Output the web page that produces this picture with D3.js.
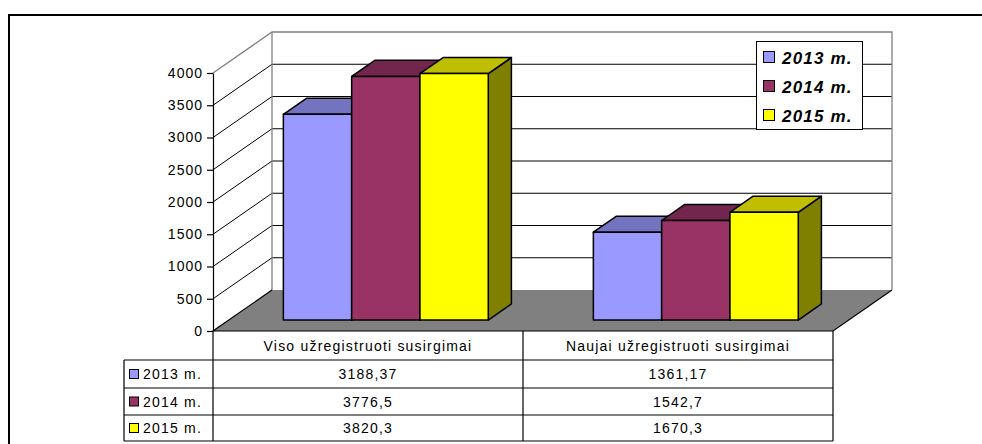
<!DOCTYPE html>
<html><head><meta charset="utf-8">
<script src="https://cdn.jsdelivr.net/npm/d3@7/dist/d3.min.js"></script>
<style>
html,body{margin:0;padding:0;background:#fff;}
svg{display:block;font-family:"Liberation Sans",Arial,sans-serif;}
</style></head>
<body>
<svg id="c" width="982" height="444"></svg>
<script>
const categories = ["Viso užregistruoti susirgimai", "Naujai užregistruoti susirgimai"];
const seriesNames = ["2013 m.", "2014 m.", "2015 m."];
const values2013 = [3188.37, 1361.17];
const values2014 = [3776.5, 1542.7];
const values2015 = [3820.3, 1670.3];
const valueLabels2013 = ["3188,37", "1361,17"];
const valueLabels2014 = ["3776,5", "1542,7"];
const valueLabels2015 = ["3820,3", "1670,3"];
const tickValues = [0, 500, 1000, 1500, 2000, 2500, 3000, 3500, 4000];
const colors = ["#9999FF", "#993366", "#FFFF00"];

const seriesValues = [values2013, values2014, values2015];
const seriesLabels = [valueLabels2013, valueLabels2014, valueLabels2015];

const svg = d3.select("#c");
const DX = 59, DY = 41;           // depth offset of the 3D box
const D0 = 0.268, D1 = 0.66;      // bar depth range
const y = d3.scaleLinear().domain([0, 4000]).range([331, 73]);
const x0 = d3.scaleBand().domain(categories).range([213, 833]);
const x1 = d3.scaleBand().domain(seriesNames).range([4, x0.bandwidth()]).paddingInner(0).paddingOuter(0.74);
const P = (x, v, d) => [x + d * DX, y(v) - d * DY];
const poly = pts => pts.map(p => p.join(",")).join(" ");
const darken = (c, k) => { const o = d3.rgb(c); return d3.rgb(o.r * k, o.g * k, o.b * k).formatHex(); };

// outer border
svg.append("path").attr("d", "M9,444 V15 H982").attr("fill", "none").attr("stroke", "#000").attr("stroke-width", 2);

const xL = x0.range()[0], xR = x0.range()[1];
const [ymin, ymax] = y.domain();
// back wall
svg.append("polygon").attr("points", poly([P(xL, ymin, 1), P(xL, ymax, 1), P(xR, ymax, 1), P(xR, ymin, 1)]))
  .attr("fill", "#fff");
// side wall
svg.append("polygon").attr("points", poly([P(xL, ymin, 0), P(xL, ymax, 0), P(xL, ymax, 1), P(xL, ymin, 1)]))
  .attr("fill", "#fff");
// gridlines
tickValues.filter(t => t > 0 && t < 4000).forEach(t => {
  svg.append("line").attr("x1", P(xL, t, 1)[0]).attr("y1", P(xL, t, 1)[1]).attr("x2", P(xR, t, 1)[0]).attr("y2", P(xR, t, 1)[1])
    .attr("stroke", "#000").attr("stroke-width", 1);
  svg.append("line").attr("x1", P(xL, t, 0)[0]).attr("y1", P(xL, t, 0)[1]).attr("x2", P(xL, t, 1)[0]).attr("y2", P(xL, t, 1)[1])
    .attr("stroke", "#000").attr("stroke-width", 1);
});
// wall outlines (gray)
svg.append("path").attr("d", "M" + [P(xL, ymax, 0), P(xL, ymax, 1), P(xR, ymax, 1), P(xR, ymin, 1)].join("L"))
  .attr("fill", "none").attr("stroke", "#808080").attr("stroke-width", 1.3);
svg.append("line").attr("x1", P(xL, ymax, 1)[0]).attr("y1", P(xL, ymax, 1)[1]).attr("x2", P(xL, ymin, 1)[0]).attr("y2", P(xL, ymin, 1)[1])
  .attr("stroke", "#808080").attr("stroke-width", 1.3);
// floor
svg.append("polygon").attr("points", poly([P(xL, 0, 0), P(xR, 0, 0), P(xR, 0, 1), P(xL, 0, 1)]))
  .attr("fill", "#808080");
svg.append("path").attr("d", "M" + [P(xL, 0, 1), P(xL, 0, 0), P(xR, 0, 0), P(xR, 0, 1)].join("L"))
  .attr("fill", "none").attr("stroke", "#000").attr("stroke-width", 1.2);

// bars
categories.forEach((cat, ci) => {
  seriesNames.forEach((s, si) => {
    const v = seriesValues[si][ci];
    const xa = x0(cat) + x1(s), xb = xa + x1.bandwidth();
    const c = colors[si];
    const g = svg.append("g").attr("stroke", "#000").attr("stroke-width", 1.5).attr("stroke-linejoin", "round");
    g.append("polygon").attr("points", poly([P(xb, 0, D0), P(xb, v, D0), P(xb, v, D1), P(xb, 0, D1)])).attr("fill", darken(c, 0.5));
    g.append("polygon").attr("points", poly([P(xa, v, D0), P(xb, v, D0), P(xb, v, D1), P(xa, v, D1)])).attr("fill", darken(c, 0.75));
    g.append("polygon").attr("points", poly([P(xa, 0, D0), P(xb, 0, D0), P(xb, v, D0), P(xa, v, D0)])).attr("fill", c);
  });
});

// y axis
const axis = svg.append("g").attr("transform", `translate(${xL},0)`)
  .call(d3.axisLeft(y).tickValues(tickValues).tickFormat(d3.format("d")).tickSize(6).tickPadding(4).tickSizeOuter(0));
axis.select(".domain").attr("stroke", "#000").attr("stroke-width", 1.2);
axis.selectAll(".tick line").attr("stroke", "#000").attr("stroke-width", 1.2);
axis.selectAll(".tick text").attr("font-size", 14).attr("letter-spacing", 1).attr("fill", "#000")
  .attr("font-family", "Liberation Sans, Arial, sans-serif");

// legend
const lg = svg.append("g");
lg.append("rect").attr("x", 756.5).attr("y", 41.5).attr("width", 106).attr("height", 88).attr("fill", "#fff").attr("stroke", "#000");
seriesNames.forEach((s, i) => {
  const cy = 57.5 + i * 29;
  lg.append("rect").attr("x", 763.5).attr("y", cy - 6).attr("width", 11).attr("height", 11).attr("fill", colors[i]).attr("stroke", "#000");
  lg.append("text").attr("x", 782).attr("y", cy + 6).text(s).attr("font-size", 17).attr("font-weight", "bold")
    .attr("font-style", "italic").attr("letter-spacing", 1.2);
});

// data table
const tb = svg.append("g").attr("font-size", 14).attr("letter-spacing", 1.2);
const rowY = [331, 360, 388, 415, 441];
const tl = (x1_, y1_, x2_, y2_) => tb.append("line").attr("x1", x1_).attr("y1", y1_).attr("x2", x2_).attr("y2", y2_)
  .attr("stroke", "#000").attr("stroke-width", 1.2);
const leftX = 124;
[360, 388, 415, 441].forEach(ry => tl(leftX, ry, xR, ry));
tl(leftX, 360, leftX, 441);
[xL, x0(categories[1]), xR].forEach(vx => tl(vx, 331, vx, 441));
categories.forEach((cat, ci) => {
  const cx = x0(cat) + x0.bandwidth() / 2;
  tb.append("text").attr("x", cx).attr("y", 351).attr("text-anchor", "middle").text(cat);
  seriesNames.forEach((s, si) => {
    tb.append("text").attr("x", cx).attr("y", (rowY[si + 1] + rowY[si + 2]) / 2 + 5).attr("text-anchor", "middle").text(seriesLabels[si][ci]);
  });
});
seriesNames.forEach((s, si) => {
  const cy = (rowY[si + 1] + rowY[si + 2]) / 2;
  tb.append("rect").attr("x", 129.5).attr("y", cy - 4.5).attr("width", 9).attr("height", 9).attr("fill", colors[si]).attr("stroke", "#000");
  tb.append("text").attr("x", 143).attr("y", cy + 5).text(s);
});
</script>
</body></html>
